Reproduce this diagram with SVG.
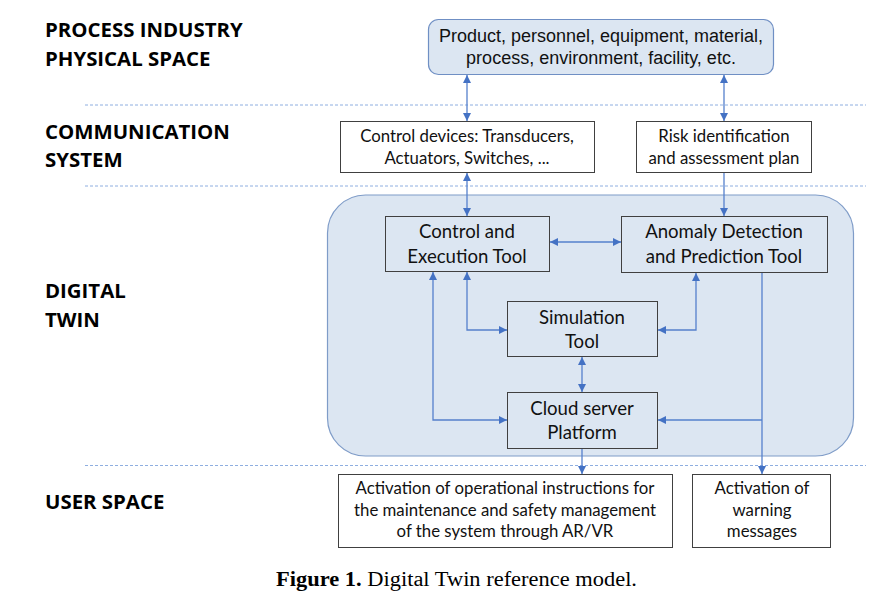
<svg xmlns="http://www.w3.org/2000/svg" width="896" height="610" viewBox="0 0 896 610">
<style>
.lbl{font-family:"Open Sans","Liberation Sans",sans-serif;font-weight:bold;font-size:20.4px;fill:#000}
.t{font-family:Lato,"Liberation Sans",sans-serif;font-size:16.8px;fill:#111;text-anchor:middle}
.tb{font-family:Lato,"Liberation Sans",sans-serif;font-size:18.6px;fill:#111;text-anchor:middle}
.ta{font-family:"Liberation Sans",Arial,sans-serif;font-size:18px;fill:#111;text-anchor:middle}
.box{fill:#fff;stroke:#404040;stroke-width:1}
.ibox{fill:#dce6f2;stroke:#404040;stroke-width:1}
.dash{stroke:#8eaee0;stroke-width:1;stroke-dasharray:3 2;fill:none}
.c{stroke:#5580cc;stroke-width:1.3;fill:none}
.cap{font-family:"Liberation Serif",serif;font-size:20px;fill:#000}
</style>
<defs>
<marker id="ah" viewBox="0 0 10 10" refX="10" refY="5" markerWidth="8" markerHeight="9" markerUnits="userSpaceOnUse" orient="auto-start-reverse">
<path d="M0,0 L10,5 L0,10 z" fill="#4472c4"/>
</marker>
</defs>
<rect width="896" height="610" fill="#fff"/>

<g id="labels">
<text class="lbl" x="45" y="37">PROCESS INDUSTRY</text>
<text class="lbl" x="45" y="66">PHYSICAL SPACE</text>
<text class="lbl" x="45" y="139">COMMUNICATION</text>
<text class="lbl" x="45" y="167">SYSTEM</text>
<text class="lbl" x="45" y="298">DIGITAL</text>
<text class="lbl" x="45" y="327">TWIN</text>
<text class="lbl" x="45" y="509">USER SPACE</text>
</g>

<g id="dividers">
<line class="dash" x1="85" y1="105" x2="866" y2="105"/>
<line class="dash" x1="85" y1="186" x2="866" y2="186"/>
<line class="dash" x1="85" y1="465.5" x2="866" y2="465.5"/>
</g>

<g id="digital-twin">
<rect x="327.5" y="195" width="526" height="261" rx="38" ry="38" fill="#dce6f2" stroke="#7f9cc8" stroke-width="1.2"/>
</g>

<g id="physical">
<rect x="428.5" y="19.5" width="345" height="55" rx="10" ry="10" fill="#dce6f2" stroke="#6f8fc4" stroke-width="1.2"/>
<text class="ta" x="601" y="42">Product, personnel, equipment, material,</text>
<text class="ta" x="601" y="64">process, environment, facility, etc.</text>
</g>

<g id="control-devices">
<rect class="box" x="340.5" y="121.5" width="254" height="51"/>
<text class="t" x="467" y="142">Control devices: Transducers,</text>
<text class="t" x="467" y="164">Actuators, Switches, ...</text>
</g>

<g id="risk">
<rect class="box" x="636.5" y="121.5" width="175" height="51"/>
<text class="t" x="724" y="142">Risk identification</text>
<text class="t" x="724" y="164">and assessment plan</text>
</g>

<g id="control-tool">
<rect class="ibox" x="385.5" y="216.5" width="164" height="55"/>
<text class="tb" x="467" y="238">Control and</text>
<text class="tb" x="467" y="263">Execution Tool</text>
</g>

<g id="anomaly-tool">
<rect class="ibox" x="621.5" y="216.5" width="206" height="56"/>
<text class="tb" x="724" y="238">Anomaly Detection</text>
<text class="tb" x="724" y="263">and Prediction Tool</text>
</g>

<g id="simulation-tool">
<rect class="ibox" x="507.5" y="301.5" width="150" height="55"/>
<text class="tb" x="582" y="324">Simulation</text>
<text class="tb" x="582" y="348">Tool</text>
</g>

<g id="cloud">
<rect class="ibox" x="507.5" y="392.5" width="150" height="56"/>
<text class="tb" x="582" y="415">Cloud server</text>
<text class="tb" x="582" y="439">Platform</text>
</g>

<g id="ar-vr">
<rect class="box" x="338.5" y="474.5" width="334" height="73"/>
<text class="t" x="505" y="494">Activation of operational instructions for</text>
<text class="t" x="505" y="515.5">the maintenance and safety management</text>
<text class="t" x="505" y="537">of the system through AR/VR</text>
</g>

<g id="warning">
<rect class="box" x="692.5" y="474.5" width="138" height="73"/>
<text class="t" x="762" y="494">Activation of</text>
<text class="t" x="762" y="515.5">warning</text>
<text class="t" x="762" y="537">messages</text>
</g>

<g id="connectors">
<line class="c" x1="467" y1="75" x2="467" y2="121" marker-start="url(#ah)" marker-end="url(#ah)"/>
<line class="c" x1="724" y1="75" x2="724" y2="121" marker-start="url(#ah)" marker-end="url(#ah)"/>
<line class="c" x1="467" y1="173" x2="467" y2="216" marker-start="url(#ah)" marker-end="url(#ah)"/>
<line class="c" x1="724" y1="173" x2="724" y2="216" marker-end="url(#ah)"/>
<line class="c" x1="550" y1="242" x2="621" y2="242" marker-start="url(#ah)" marker-end="url(#ah)"/>
<polyline class="c" points="467,272 467,330 507,330" marker-start="url(#ah)" marker-end="url(#ah)"/>
<polyline class="c" points="696,273 696,330 658,330" marker-start="url(#ah)" marker-end="url(#ah)"/>
<line class="c" x1="582" y1="357" x2="582" y2="392" marker-start="url(#ah)" marker-end="url(#ah)"/>
<polyline class="c" points="433,272 433,420 507,420" marker-start="url(#ah)" marker-end="url(#ah)"/>
<line class="c" x1="762" y1="273" x2="762" y2="474" marker-end="url(#ah)"/>
<line class="c" x1="762" y1="420" x2="658" y2="420" marker-end="url(#ah)"/>
<line class="c" x1="582" y1="449" x2="582" y2="474" marker-end="url(#ah)"/>
</g>

<g id="caption">
<text class="cap" x="276" y="586" textLength="361" lengthAdjust="spacingAndGlyphs"><tspan font-weight="bold">Figure 1.</tspan> Digital Twin reference model.</text>
</g>
</svg>
